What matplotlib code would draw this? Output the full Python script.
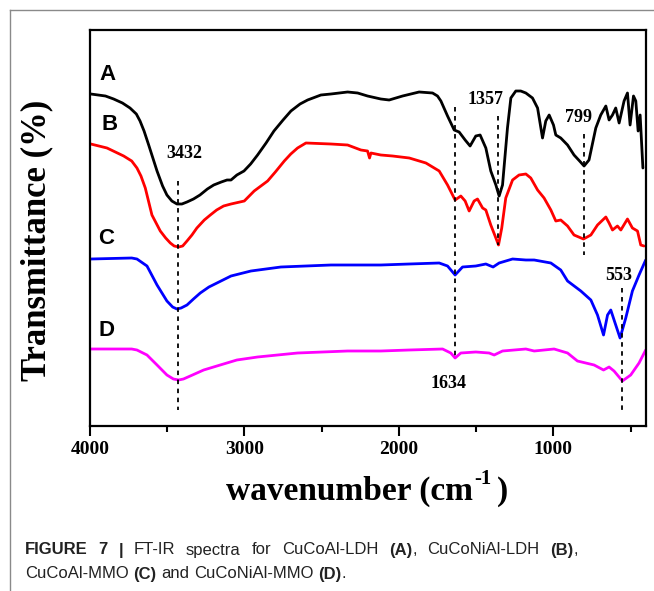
import matplotlib
matplotlib.use("Agg")
import matplotlib.pyplot as plt
from matplotlib.lines import Line2D

# ---------------- data (wavenumber cm-1, transmittance a.u.) ----------------
wn_A = [3995, 3900, 3847, 3790, 3741, 3700, 3676, 3650, 3620, 3566, 3530, 3502,
        3470, 3437, 3405, 3372, 3330, 3288, 3240, 3199, 3150, 3113,
        3087, 3049, 3003, 2960, 2915, 2860, 2809, 2750, 2699, 2640, 2591, 2505,
        2440, 2332, 2267, 2203, 2117, 2063, 1976, 1869, 1782, 1750, 1728, 1685,
        1642, 1610, 1571, 1539, 1502, 1474, 1437, 1405, 1372, 1351, 1329, 1297,
        1275, 1243, 1211, 1178, 1135, 1102, 1070, 1049, 1027, 999, 984, 952,
        908, 866, 830, 801, 769, 725, 693, 660, 639, 617, 596, 574, 542, 520,
        503, 481, 466, 451, 438, 420]
T_A = [332, 330, 327, 323, 318, 312, 305, 295, 281, 255, 240, 231,
       225, 222, 222, 224, 227, 231, 237, 241, 244, 246,
       246, 251, 255, 262, 271, 283, 295, 306, 315, 322, 326, 331,
       332, 334, 333, 330, 327, 326, 330, 334, 333, 330, 325, 310,
       296, 294, 286, 280, 290, 291, 278, 255, 241, 230, 241, 298,
       328, 335, 335, 333, 328, 318, 288, 305, 311, 301, 291, 288,
       281, 271, 265, 260, 266, 298, 311, 320, 306, 311, 318, 303, 325, 333,
       301, 330, 325, 295, 311, 258]

wn_B = [3995, 3890, 3782, 3730, 3696, 3670, 3642, 3599, 3545, 3510, 3480, 3455,
        3426, 3400, 3372, 3340, 3308, 3260, 3221, 3180, 3135, 3087, 3001, 2937,
        2850, 2800, 2742, 2700, 2656, 2602, 2440, 2332, 2246, 2203, 2190, 2181,
        2117, 2041, 1933, 1825, 1739, 1685, 1636, 1599, 1571, 1545, 1513, 1491,
        1458, 1437, 1405, 1372, 1355, 1334, 1308, 1264, 1222, 1178, 1146, 1102,
        1060, 1016, 984, 952, 908, 866, 805, 757, 714, 660, 639, 617, 585, 563,
        520, 488, 455, 434, 413]
T_B = [282, 278, 270, 265, 258, 250, 238, 211, 195, 188, 183, 180,
       179, 180, 185, 191, 198, 206, 211, 216, 220, 222, 225, 235,
       245, 254, 265, 272, 278, 283, 282, 281, 276, 275, 268, 273,
       271, 270, 268, 263, 255, 241, 226, 230, 225, 215, 225, 227,
       218, 216, 201, 188, 181, 198, 228, 246, 251, 252, 248, 236,
       228, 216, 205, 206, 200, 191, 187, 191, 201, 209, 203, 196, 200, 196,
       207, 198, 195, 181, 180]

wn_C = [3995, 3730, 3696, 3631, 3566, 3502, 3465, 3437, 3410, 3372, 3330, 3286,
        3230, 3178, 3087, 2958, 2764, 2440, 2117, 1933, 1739, 1685, 1636, 1588,
        1502, 1437, 1390, 1351, 1264, 1178, 1124, 1016, 952, 908, 822, 757,
        714, 675, 649, 628, 596, 568, 531, 488, 445, 402]
T_C = [167, 168, 167, 160, 141, 125, 119, 117, 118, 121, 127, 133,
       139, 143, 150, 155, 159, 161, 161, 162, 163, 160, 151, 159,
       160, 162, 159, 163, 167, 166, 166, 163, 156, 145, 135, 126,
       111, 91, 111, 116, 101, 88, 108, 135, 151, 166]

wn_D = [3995, 3730, 3696, 3631, 3566, 3502, 3460, 3426, 3395, 3351, 3264, 3157,
        3049, 2915, 2656, 2332, 2117, 1933, 1717, 1664, 1636, 1599, 1502, 1416,
        1383, 1329, 1178, 1124, 995, 908, 844, 736, 675, 639, 607, 553, 499,
        445, 402]
T_D = [77, 77, 76, 71, 61, 51, 47, 46, 47, 50, 56, 61,
       66, 69, 73, 75, 75, 76, 77, 73, 68, 73, 74, 73,
       71, 75, 77, 75, 77, 73, 65, 61, 56, 59, 55, 45, 51,
       63, 76]

curves = [(wn_A, T_A, "black"), (wn_B, T_B, "#ff0000"),
          (wn_C, T_C, "#0000ff"), (wn_D, T_D, "#ff00ff")]

# marker lines: (wavenumber, T_top, T_bottom)
peak_wn = [3432, 1634, 1357, 799, 553]
peak_top = [245, 319, 310, 292, 138]
peak_bot = [16, 68, 181, 171, 16]

# peak labels
label_txt = ["3432", "1357", "799", "553", "1634"]
label_wn = [3392, 1437, 835, 576, 1677]
label_T = [273, 326, 309, 151, 43]

letters = ["A", "B", "C", "D"]
letter_wn = [3940, 3925, 3945, 3945]
letter_T = [351, 301, 188, 96]

xticks = [4000, 3000, 2000, 1000]
xminor = [3500, 2500, 1500, 500]

# ---------------- figure ----------------
W, H = 654, 591
fig = plt.figure(figsize=(W / 100, H / 100), dpi=100)
ax = fig.add_axes([90 / W, 1 - 426 / H, (646 - 90) / W, (426 - 30) / H])
renderer = fig.canvas.get_renderer()

serif = "Liberation Serif"

for wn, T, c in curves:
    ax.plot(wn, T, color=c, lw=2.0, solid_joinstyle="round", solid_capstyle="round")

for w, t0, t1 in zip(peak_wn, peak_top, peak_bot):
    ax.plot([w, w], [t0, t1], color="black", lw=1.3, linestyle=(0, (2.5, 2.5)))

for s, w, t in zip(label_txt, label_wn, label_T):
    ax.text(w, t, s, ha="center", va="center", fontfamily=serif,
            fontweight="bold", fontsize=13)

for s, w, t in zip(letters, letter_wn, letter_T):
    ax.text(w, t, s, ha="left", va="center", fontfamily="Liberation Sans",
            fontweight="bold", fontsize=16)

ax.set_xlim(4000, 400)
ax.set_ylim(0, 396)
ax.set_xticks(xticks)
ax.set_xticks(xminor, minor=True)
ax.set_xticklabels([str(v) for v in xticks], fontfamily=serif,
                   fontweight="bold", fontsize=14)
ax.set_yticks([])
ax.tick_params(axis="x", which="major", direction="out", length=7, width=1.5, pad=4)
ax.tick_params(axis="x", which="minor", direction="out", length=4.5, width=1.5)
for sp in ax.spines.values():
    sp.set_linewidth(1.6)

fig.text(37 / W, 1 - 240 / H, "Transmittance (%)", rotation=90, ha="center",
         va="center", fontfamily=serif, fontweight="bold", fontsize=25)


def measure(s, fam, wgt, fs):
    t = fig.text(0, 0, s, fontfamily=fam, fontweight=wgt, fontsize=fs)
    w = t.get_window_extent(renderer=renderer).width
    t.remove()
    return w


# x label built from pieces: "wavenumber (cm", superscript "-1", ")"
xl_parts = [("wavenumber (cm", 24, 0), ("-1", 15, 16), (")", 24, 0)]
xl_w = [measure(s, serif, "bold", fs) for s, fs, _ in xl_parts]
xl_w[0] += 1
xl_w[1] += 5
xpx = 367 - sum(xl_w) / 2
for (s, fs, dy), wd in zip(xl_parts, xl_w):
    fig.text(xpx / W, 1 - 500 / H + dy / H, s, ha="left", va="baseline",
             fontfamily=serif, fontweight="bold", fontsize=fs)
    xpx += wd

# frame lines
fig.add_artist(Line2D([10 / W, 1.0], [1 - 10 / H, 1 - 10 / H], color="#8a8a8a",
                      lw=1.0, transform=fig.transFigure))
fig.add_artist(Line2D([10 / W, 10 / W], [1 - 10 / H, 0.0], color="#8a8a8a",
                      lw=1.0, transform=fig.transFigure))

# caption (line 1 justified) with mixed weights
cap_fs = 12
cap_font = "Liberation Sans"


def words_of(segs):
    out = []
    for s, wgt in segs:
        parts = s.split(" ")
        for i, p in enumerate(parts):
            if i > 0:
                out.append((" ", wgt))
            if p:
                out.append((p, wgt))
    return out


cap_lines = [
    (550, 578, [("FIGURE 7 |", "bold"), (" FT-IR spectra for CuCoAl-LDH ", "normal"),
                ("(A)", "bold"), (", CuCoNiAl-LDH ", "normal"), ("(B)", "bold"),
                (",", "normal")]),
    (574, None, [("CuCoAl-MMO ", "normal"), ("(C)", "bold"),
                 (" and CuCoNiAl-MMO ", "normal"), ("(D)", "bold"), (".", "normal")]),
]
space_w = (measure("a a", cap_font, "normal", cap_fs)
           - measure("aa", cap_font, "normal", cap_fs))
for ypx, right, segs in cap_lines:
    toks = words_of(segs)
    widths = [space_w if s == " " else measure(s, cap_font, w, cap_fs) for s, w in toks]
    nsp = sum(1 for s, _ in toks if s == " ")
    extra = 0.0
    if right is not None and nsp:
        extra = (right - 25 - sum(widths)) / nsp
    xpx = 25
    for (s, wgt), wd in zip(toks, widths):
        if s == " ":
            xpx += wd + extra
            continue
        fig.text(xpx / W, 1 - ypx / H, s, ha="left", va="center",
                 fontfamily=cap_font, fontweight=wgt,
                 fontsize=cap_fs, color="#222222")
        xpx += wd

fig.savefig("out.png", dpi=100)
